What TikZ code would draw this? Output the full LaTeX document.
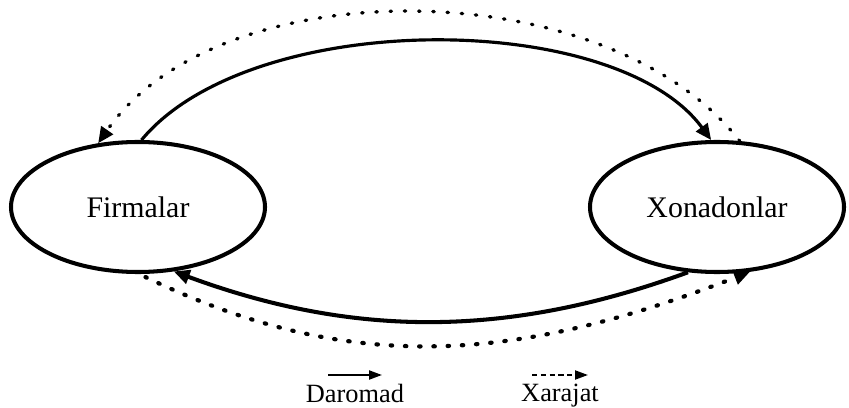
\documentclass[tikz,border=0pt]{standalone}
\usepackage{fontspec}
\setmainfont{Liberation Serif}
\usetikzlibrary{arrows.meta, positioning, shapes.geometric, calc}

\begin{document}
\begin{tikzpicture}[
    sektor/.style={ellipse, draw, line width=2.3pt, minimum width=5.08cm,
                   minimum height=2.6cm, inner sep=0pt, font=\fontsize{17}{20}\selectfont},
    daromad/.style={line width=2pt, -{Triangle[length=3.2mm, width=2.8mm]}},
    xarajat/.style={line width=2.4pt, line cap=round, dash pattern=on 0.8pt off 7.3pt,
                    -{Triangle[length=3.2mm, width=2.8mm]}},
    legtext/.style={font=\fontsize{15}{18}\selectfont, inner sep=0pt}
  ]
  \useasboundingbox (0,0) rectangle (16.98,8.14);
  % Sectors
  \foreach \x/\n/\t in {2.76/firms/Firmalar, 14.34/homes/Xonadonlar}
    \node[sektor] (\n) at (\x,4) {\t};
  % Upper flows
  \draw[daromad, line width=1.8pt] (firms.87) .. controls (5.02,7.98) and (12.30,7.96) .. (homes.95);
  \draw[xarajat, line width=1.9pt] (homes.71) .. controls (12.14,8.72) and (4.38,8.78) .. (firms.122);
  % Lower flows
  \draw[daromad, line width=2.3pt] (homes.246) .. controls (10.16,1.38) and (7.08,1.38) .. (firms.299);
  \draw[xarajat, shorten <=0.14cm] (firms.271) .. controls (6.86,0.70) and (10.12,0.80) .. (homes.297);
  % Legend
  \coordinate (d0) at (6.56,0.64);
  \coordinate (d1) at (7.64,0.64);
  \coordinate (x0) at (10.64,0.64);
  \coordinate (x1) at (11.76,0.64);
  \draw[line width=1.2pt, -{Triangle[length=2.6mm, width=1.8mm]}] (d0) -- (d1);
  \draw[line width=1.1pt, dash pattern=on 3pt off 2pt, -{Triangle[length=2.6mm, width=1.8mm]}] (x0) -- (x1);
  \node[legtext, below=5pt of $(d0)!0.5!(d1)$] (lbldar) {Daromad};
  \node[legtext, below=5pt of $(x0)!0.5!(x1)$] (lblxar) {Xarajat};
\end{tikzpicture}
\end{document}
